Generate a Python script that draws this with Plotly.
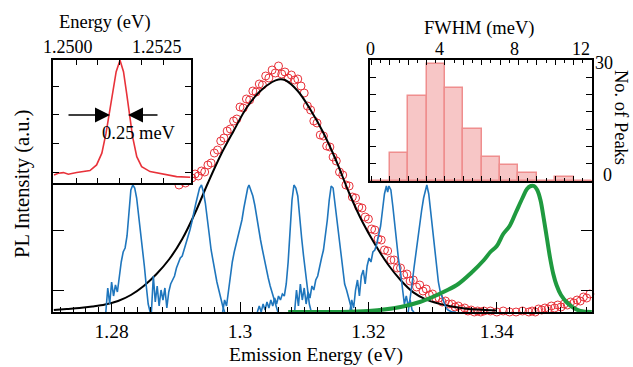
import plotly.graph_objects as go

W, H = 633, 367

# ---------------- data ----------------
# ensemble PL (red open circles)
red_E = [1.2905,1.2910,1.2915,1.2920,1.2925,1.2930,1.2935,1.2940,1.2945,1.2950,
         1.2955,1.2960,1.2965,1.2970,1.2975,1.2980,1.2985,1.2990,1.2995,1.3000,
         1.3005,1.3010,1.3015,1.3020,1.3025,1.3030,1.3035,1.3040,1.3045,1.3050,
         1.3055,1.3060,1.3065,1.3070,1.3075,1.3080,1.3085,1.3090,1.3095,1.3100,
         1.3105,1.3110,1.3115,1.3120,1.3125,1.3130,1.3135,1.3140,1.3145,1.3150,
         1.3155,1.3160,1.3165,1.3170,1.3175,1.3180,1.3185,1.3190,1.3195,1.3200,
         1.3205,1.3210,1.3215,1.3220,1.3225,1.3230,1.3235,1.3240,1.3245,1.3250,
         1.3255,1.3260,1.3265,1.3270,1.3275,1.3280,1.3285,1.3290,1.3295,1.3300,
         1.3305,1.3310,1.3315,1.3320,1.3325,1.3330,1.3335,1.3340,1.3345,1.3350,
         1.3355,1.3360,1.3365,1.3370,1.3375,1.3380,1.3385,1.3390,1.3395,1.3400,
         1.3405,1.3410,1.3415,1.3420,1.3425,1.3430,1.3435,1.3440,1.3445,1.3450,
         1.3455,1.3460,1.3465,1.3470,1.3475,1.3480,1.3485,1.3490,1.3495,1.3500,
         1.3505,1.3510,1.3515,1.3520,1.3525,1.3530,1.3535,1.3540,1.3545]
red_I = [0.635,0.655,0.645,0.675,0.67,0.69,0.68,0.705,0.7,0.735,
         0.745,0.795,0.81,0.855,0.87,0.905,0.915,0.955,0.965,1.025,
         1.02,1.065,1.06,1.105,1.1,1.14,1.135,1.18,1.17,1.21,
         1.195,1.23,1.19,1.2,1.17,1.185,1.16,1.165,1.13,1.095,
         1.03,1.01,0.955,0.945,0.885,0.88,0.83,0.825,0.775,0.755,
         0.7,0.685,0.635,0.63,0.575,0.57,0.525,0.52,0.475,0.465,
         0.415,0.41,0.365,0.36,0.31,0.305,0.26,0.26,0.22,0.22,
         0.185,0.19,0.155,0.16,0.125,0.135,0.105,0.115,0.085,0.09,
         0.07,0.07,0.05,0.055,0.04,0.04,0.025,0.03,0.015,0.02,
         0.005,0.01,0.0,0.005,0.0,0.005,-0.005,0.005,-0.005,0.0,
         -0.005,0.005,-0.005,0.0,-0.005,0.0,-0.005,0.005,-0.005,0.0,
         0.005,0.0,0.015,0.01,0.02,0.015,0.03,0.02,0.035,0.025,
         0.04,0.035,0.05,0.045,0.06,0.055,0.075,0.07,0.09]

# Gaussian fit (black)
fit_E = [1.2710,1.2730,1.2750,1.2770,1.2790,1.2810,1.2830,1.2850,1.2870,1.2890,
         1.2910,1.2930,1.2950,1.2970,1.2990,1.3010,1.3030,1.3050,1.3060,1.3070,
         1.3090,1.3110,1.3130,1.3150,1.3170,1.3190,1.3210,1.3230,1.3250,1.3270,
         1.3290,1.3310,1.3330,1.3350,1.3370,1.3400]
fit_I = [0.01,0.015,0.02,0.0275,0.0375,0.055,0.085,0.13,0.19,0.265,
         0.365,0.495,0.645,0.785,0.905,1.02,1.1,1.15,1.163,1.16,
         1.105,1.01,0.895,0.755,0.595,0.455,0.34,0.24,0.16,0.098,
         0.062,0.042,0.028,0.018,0.012,0.0075]

# single-dot spectra (blue)
dot1_E = [1.2791,1.2794,1.2797,1.2800,1.2803,1.2806,1.2809,1.2812,1.2815,1.2818,1.2821,1.2824,
          1.2827,1.2830,1.2833,1.2836,1.2839,1.2842,1.2845,1.2848,1.2851,1.2854,1.2857,1.2860]
dot1_I = [0,0.12,0.04,0.15,0.08,0.135,0.10,0.18,0.25,0.30,0.32,0.38,
          0.50,0.61,0.635,0.62,0.57,0.49,0.40,0.31,0.23,0.13,0.04,0]
dot2_E = [1.2862,1.2865,1.2868,1.2871,1.2874,1.2877,1.2880,1.2883,1.2886,1.2889,
          1.2892,1.2895,1.2898,1.2901,1.2904,1.2907,1.2910,1.2913,1.2916,1.2919,
          1.2922,1.2925,1.2928,1.2931,1.2934,1.2937,1.2940,1.2943,1.2946,1.2949,
          1.2952,1.2955,1.2958,1.2961,1.2964,1.2967,1.2970,1.2973,1.2976]
dot2_I = [0,0.18,0.05,0.13,0.03,0.11,0.06,0.12,0.02,0.10,
          0.14,0.16,0.18,0.22,0.25,0.27,0.28,0.31,0.34,0.37,
          0.41,0.45,0.50,0.54,0.58,0.62,0.635,0.60,0.545,0.48,
          0.39,0.31,0.25,0.20,0.15,0.11,0.06,0.03,0]
dot3_E = [1.2973,1.2976,1.2979,1.2982,1.2985,1.2988,1.2991,1.2994,1.2997,1.3000,
          1.3003,1.3006,1.3009,1.3012,1.3014,1.3017,1.3020,1.3023,1.3026,1.3029,
          1.3032,1.3035,1.3038,1.3041,1.3044,1.3047,1.3050,1.3053,1.3056,1.3059]
dot3_I = [0,0.06,0.03,0.11,0.17,0.25,0.30,0.34,0.38,0.41,
          0.46,0.52,0.58,0.62,0.635,0.61,0.58,0.535,0.47,0.41,
          0.36,0.31,0.26,0.22,0.17,0.13,0.10,0.06,0.03,0]
dot4_E = [1.3027,1.3030,1.3033,1.3036,1.3039,1.3042,1.3045,1.3048,1.3051,1.3054,
          1.3057,1.3060,1.3063,1.3066,1.3069,1.3072,1.3075,1.3078,1.3081,1.3084,
          1.3087,1.3090,1.3093,1.3096,1.3099,1.3102,1.3105,1.3108,1.3111]
dot4_I = [0,0.03,0,0.04,0.01,0.05,0.02,0.06,0.03,0.07,
          0.04,0.08,0.06,0.09,0.08,0.14,0.25,0.38,0.56,0.635,
          0.62,0.58,0.46,0.37,0.28,0.20,0.11,0.04,0]
dot5_E = [1.3085,1.3088,1.3091,1.3094,1.3097,1.3100,1.3103,1.3106,1.3109,1.3112,
          1.3115,1.3118,1.3121,1.3124,1.3127,1.3130,1.3133,1.3136,1.3139,1.3142,
          1.3145,1.3148,1.3151,1.3154,1.3157,1.3160,1.3163,1.3166,1.3169,1.3172,1.3175]
dot5_I = [0,0.11,0.03,0.14,0.06,0.12,0.04,0.10,0.07,0.13,
          0.11,0.16,0.18,0.23,0.27,0.31,0.38,0.46,0.56,0.63,
          0.62,0.54,0.45,0.36,0.27,0.20,0.14,0.11,0.07,0.03,0]
dot6_E = [1.3171,1.3174,1.3177,1.3180,1.3183,1.3186,1.3189,1.3192,1.3195,1.3198,
          1.3201,1.3204,1.3207,1.3210,1.3213,1.3216,1.3219,1.3222,1.3225,1.3228,
          1.3230,1.3232,1.3235,1.3238,1.3241,1.3244,1.3247,1.3250,1.3253,1.3256,
          1.3259,1.3262,1.3265,1.3268,1.3271]
dot6_I = [0,0.06,0.02,0.11,0.16,0.08,0.18,0.21,0.14,0.23,
          0.27,0.25,0.30,0.31,0.34,0.38,0.43,0.51,0.59,0.63,
          0.60,0.63,0.61,0.53,0.44,0.34,0.26,0.20,0.11,0.04,
          0.08,0.03,0.06,0.01,0]
dot7_E = [1.3262,1.3265,1.3268,1.3271,1.3274,1.3277,1.3280,1.3283,1.3286,1.3289,
          1.3291,1.3294,1.3297,1.3300,1.3303,1.3306,1.3309,1.3312,1.3315,1.3318,
          1.3321,1.3324,1.3330,1.3336]
dot7_I = [0,0.06,0.14,0.22,0.30,0.37,0.45,0.51,0.57,0.62,
          0.635,0.59,0.50,0.41,0.31,0.22,0.15,0.10,0.07,0.04,
          0.02,0.01,0,0]
dots_E = [dot1_E, dot2_E, dot3_E, dot4_E, dot5_E, dot6_E, dot7_E]
dots_I = [dot1_I, dot2_I, dot3_I, dot4_I, dot5_I, dot6_I, dot7_I]

# green spectrum
green_E = [1.3075,1.3150,1.3200,1.3250,1.3280,1.3300,1.3320,1.3340,1.3360,1.3380,
           1.3390,1.3400,1.3410,1.3420,1.3430,1.3440,1.3447,1.3453,1.3458,1.3463,
           1.3468,1.3473,1.3478,1.3483,1.3488,1.3493,1.3500,1.3510,1.3520,1.3530,1.3548]
green_I = [0,0,0.005,0.025,0.05,0.075,0.105,0.14,0.195,0.26,
           0.30,0.33,0.39,0.43,0.50,0.57,0.615,0.63,0.63,0.61,
           0.56,0.47,0.37,0.27,0.19,0.135,0.085,0.045,0.02,0.005,0]

# inset: high-resolution single peak
inset_E = [1.24937,1.24949,1.24964,1.24978,1.25002,1.25040,1.25059,1.25074,1.25086,1.25095,
           1.25105,1.25115,1.25126,1.25136,1.25145,1.25153,1.25162,1.25174,1.25188,1.25212,
           1.25250,1.25288,1.25327]
inset_I = [0.186,0.198,0.202,0.191,0.202,0.216,0.255,0.336,0.474,0.600,
           0.750,0.899,0.978,0.899,0.750,0.600,0.450,0.312,0.243,0.209,
           0.193,0.174,0.170]
inset_xticks = [1.2500, 1.250625, 1.25125, 1.251875, 1.2525]
inset_xlabels = ["1.2500", "1.2525"]

# inset: FWHM histogram
fwhm_centers = [0.5,1.5,2.5,3.5,4.5,5.5,6.5,7.5,8.5,9.5,10.5,11.5]
fwhm_counts = [0,7,21,29,23,13,6,4,2,0,1,0]
fwhm_xlabels = ["0", "4", "8", "12"]
count_labels = ["30", "0"]
count_ticks = [4.29, 8.57, 12.86, 17.14, 21.43, 25.71]

main_xticks = [1.28, 1.30, 1.32, 1.34]
main_xlabels = ["1.28", "1.3", "1.32", "1.34"]

# ---------------- figure ----------------
FONT = "Liberation Serif"
RED = "#e8323a"
BLUE = "#1f76bd"
GREEN = "#1f9a3f"
PINK_FILL = "#f7c6c6"
PINK_LINE = "#ef8e8e"


def P(x, y):
    return x / W, 1 - y / H


fig = go.Figure()

fig.add_trace(go.Scatter(x=red_E, y=red_I, mode="markers", cliponaxis=False,
                         marker=dict(symbol="circle-open", size=8, color=RED,
                                     line=dict(width=1, color=RED)),
                         xaxis="x", yaxis="y", showlegend=False))
fig.add_trace(go.Scatter(x=fit_E, y=fit_I, mode="lines", line=dict(color="black", width=2),
                         line_shape="spline", cliponaxis=False,
                         xaxis="x", yaxis="y", showlegend=False))
for de, di in zip(dots_E, dots_I):
    fig.add_trace(go.Scatter(x=de, y=di, mode="lines", line=dict(color=BLUE, width=1.6),
                             cliponaxis=False, xaxis="x", yaxis="y", showlegend=False))
fig.add_trace(go.Scatter(x=green_E, y=green_I, mode="lines", line=dict(color=GREEN, width=4),
                         line_shape="spline", cliponaxis=False,
                         xaxis="x", yaxis="y", showlegend=False))

fig.add_trace(go.Scatter(x=inset_E, y=inset_I, mode="lines", line=dict(color=RED, width=1.6),
                         xaxis="x2", yaxis="y2", showlegend=False))

fig.add_trace(go.Bar(x=fwhm_centers, y=fwhm_counts, width=1,
                     marker=dict(color=PINK_FILL, line=dict(color=PINK_LINE, width=1.5)),
                     xaxis="x3", yaxis="y3", showlegend=False))
fig.add_trace(go.Scatter(x=[fwhm_centers[0] - 0.58, fwhm_centers[-1] + 0.5], y=[0, 0], mode="lines",
                         line=dict(color=PINK_LINE, width=2), cliponaxis=False,
                         xaxis="x3", yaxis="y3", showlegend=False))

ax_common = dict(showgrid=False, zeroline=False, linecolor="black", linewidth=2,
                 tickcolor="black", tickwidth=1.3)

fig.update_layout(
    width=W, height=H, margin=dict(l=0, r=0, t=0, b=0),
    paper_bgcolor="white", plot_bgcolor="white",
    font=dict(family=FONT, color="black", size=20),
    bargap=0,
    xaxis=dict(domain=[53 / W, 592 / W], range=[1.27087, 1.35483], anchor="y",
               showline=True, mirror=False, ticks="inside", ticklen=10,
               tickvals=main_xticks, ticktext=main_xlabels,
               tickfont=dict(family=FONT, size=19.5), ticklabelstandoff=1,
               minor=dict(dtick=0.002, tick0=1.28, ticks="inside", ticklen=5,
                          tickcolor="black", tickwidth=1.2),
               **ax_common),
    yaxis=dict(domain=[1 - 312 / H, 1 - 60 / H], range=[0, 1.26], anchor="x",
               showline=True, mirror="ticks", ticks="inside", ticklen=11,
               tick0=0.11, dtick=0.3, showticklabels=False, **ax_common),
    xaxis2=dict(domain=[53 / W, 191 / W], range=[1.249341, 1.253293], anchor="y2",
                showline=True, mirror="ticks", ticks="inside", ticklen=5,
                tickvals=inset_xticks, showticklabels=False, **ax_common),
    yaxis2=dict(domain=[1 - 183 / H, 1 - 60 / H], range=[0.13, 0.98], anchor="x2",
                showline=True, mirror="ticks", ticks="inside", ticklen=6,
                tick0=0, dtick=0.2, showticklabels=False, **ax_common),
    xaxis3=dict(domain=[370 / W, 592 / W], range=[-0.08, 12.0], anchor="y3",
                showline=True, mirror="ticks", ticks="inside", ticklen=5,
                tick0=0, dtick=1, showticklabels=False,
                minor=dict(dtick=0.5, ticks="inside", ticklen=3, tickcolor="black", tickwidth=1.2),
                **ax_common),
    yaxis3=dict(domain=[1 - 181 / H, 1 - 60 / H], range=[0, 30], anchor="x3",
                showline=True, mirror="ticks", ticks="inside", ticklen=6,
                tickvals=count_ticks, showticklabels=False, **ax_common),
)

ann = []


def text(s, x, y, size, angle=0, xanchor="center"):
    px, py = P(x, y)
    ann.append(dict(text=s, x=px, y=py, xref="paper", yref="paper", showarrow=False,
                    xanchor=xanchor, yanchor="middle", textangle=angle, borderpad=0,
                    font=dict(family=FONT, size=size, color="black")))


text("Energy (eV)", 105, 22, 18.5)
text(inset_xlabels[0], 68, 47, 18)
text(inset_xlabels[1], 157, 47, 18)
text("0.25 meV", 139, 133, 18.5)
text("FWHM (meV)", 479, 28, 18.5)
for lab, xx in zip(fwhm_xlabels, [370, 439, 514, 581]):
    text(lab, xx, 49, 18)
text("No. of Peaks", 621, 117, 18.5, angle=90)
text(count_labels[0], 614, 63, 18, xanchor="right")
text(count_labels[1], 613, 175, 18, xanchor="right")
text("PL Intensity (a.u.)", 22, 184, 20.5, angle=-90)
text("Emission Energy (eV)", 316, 355, 19.5)

# FWHM arrows
for tipx, tail in [(110, -43), (128, 31)]:
    px, py = P(tipx, 115)
    ann.append(dict(text="", x=px, y=py, xref="paper", yref="paper", showarrow=True,
                    ax=tail, ay=0, arrowhead=2, arrowsize=2, arrowwidth=1.5,
                    arrowcolor="black", standoff=0, startstandoff=0))

fig.update_layout(annotations=ann)

fig.write_html("out.html", config={"displayModeBar": False},
               post_script="document.body.style.margin='0';document.body.style.overflow='hidden';")
